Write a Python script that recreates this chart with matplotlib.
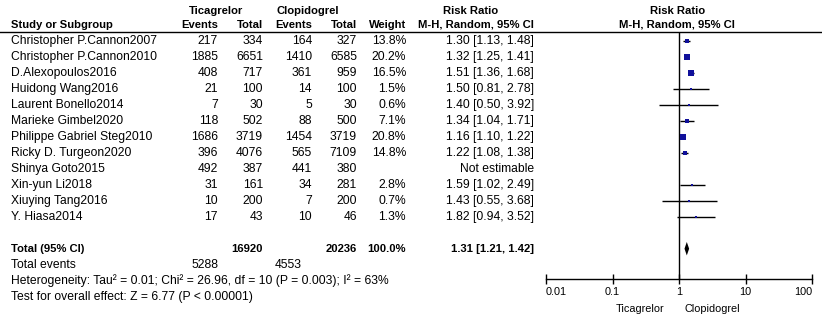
import matplotlib
matplotlib.use('Agg')
import matplotlib.pyplot as plt

plt.rcParams['font.family'] = ['Liberation Sans', 'DejaVu Sans']
plt.rcParams['font.size'] = 8.7

# study data
studies = ['Christopher P.Cannon2007', 'Christopher P.Cannon2010', 'D.Alexopoulos2016',
           'Huidong Wang2016', 'Laurent Bonello2014', 'Marieke Gimbel2020',
           'Philippe Gabriel Steg2010', 'Ricky D. Turgeon2020', 'Shinya Goto2015',
           'Xin-yun Li2018', 'Xiuying Tang2016', 'Y. Hiasa2014']
ev_tica = [217, 1885, 408, 21, 7, 118, 1686, 396, 492, 31, 10, 17]
tot_tica = [334, 6651, 717, 100, 30, 502, 3719, 4076, 387, 161, 200, 43]
ev_clop = [164, 1410, 361, 14, 5, 88, 1454, 565, 441, 34, 7, 10]
tot_clop = [327, 6585, 959, 100, 30, 500, 3719, 7109, 380, 281, 200, 46]
weights = [13.8, 20.2, 16.5, 1.5, 0.6, 7.1, 20.8, 14.8, None, 2.8, 0.7, 1.3]
rr = [1.30, 1.32, 1.51, 1.50, 1.40, 1.34, 1.16, 1.22, None, 1.59, 1.43, 1.82]
ci_lo = [1.13, 1.25, 1.36, 0.81, 0.50, 1.04, 1.10, 1.08, None, 1.02, 0.55, 0.94]
ci_hi = [1.48, 1.41, 1.68, 2.78, 3.92, 1.71, 1.22, 1.38, None, 2.49, 3.68, 3.52]

# pooled result
total_tica = 16920
total_clop = 20236
events_tica = 5288
events_clop = 4553
pooled_rr, pooled_lo, pooled_hi = 1.31, 1.21, 1.42
heterogeneity = 'Heterogeneity: Tau² = 0.01; Chi² = 26.96, df = 10 (P = 0.003); I² = 63%'
overall = 'Test for overall effect: Z = 6.77 (P < 0.00001)'

ticks = [0.01, 0.1, 1, 10, 100]
tick_labels = ['0.01', '0.1', '1', '10', '100']

W, H = 822, 320
top_idx = (0 - 40.7) / 16
bot_idx = (H - 40.7) / 16

fig = plt.figure(figsize=(W / 100, H / 100), dpi=100)

# table part, x in pixels, y in row index
tab = fig.add_axes([0, 0, 1, 1])
tab.set_xlim(0, W)
tab.set_ylim(bot_idx, top_idx)
tab.axis('off')

col_x = [218, 263, 312, 357, 406, 534]
bold = dict(fontweight='bold', fontsize=8.1)

tab.text(216, -1.85, 'Ticagrelor', ha='center', va='center', **bold)
tab.text(308, -1.85, 'Clopidogrel', ha='center', va='center', **bold)
tab.text(471, -1.85, 'Risk Ratio', ha='center', va='center', **bold)
tab.text(678, -1.85, 'Risk Ratio', ha='center', va='center', **bold)
tab.text(11, -1, 'Study or Subgroup', ha='left', va='center', **bold)
for x, h in zip(col_x, ['Events', 'Total', 'Events', 'Total', 'Weight', 'M-H, Random, 95% CI']):
    tab.text(x, -1, h, ha='right', va='center', **bold)
tab.text(677, -1, 'M-H, Random, 95% CI', ha='center', va='center', **bold)
tab.plot([0, W], [-0.54, -0.54], color='black', lw=1)

for i, name in enumerate(studies):
    tab.text(11, i, name, ha='left', va='center')
    vals = [str(ev_tica[i]), str(tot_tica[i]), str(ev_clop[i]), str(tot_clop[i])]
    vals.append('' if weights[i] is None else f'{weights[i]:.1f}%')
    if rr[i] is None:
        vals.append('Not estimable')
    else:
        vals.append(f'{rr[i]:.2f} [{ci_lo[i]:.2f}, {ci_hi[i]:.2f}]')
    for x, v in zip(col_x, vals):
        tab.text(x, i, v, ha='right', va='center')

n = len(studies) + 1
tab.text(11, n, 'Total (95% CI)', ha='left', va='center', **bold)
tab.text(263, n, str(total_tica), ha='right', va='center', **bold)
tab.text(357, n, str(total_clop), ha='right', va='center', **bold)
tab.text(406, n, '100.0%', ha='right', va='center', **bold)
tab.text(534, n, f'{pooled_rr:.2f} [{pooled_lo:.2f}, {pooled_hi:.2f}]', ha='right', va='center', **bold)
tab.text(11, n + 1, 'Total events', ha='left', va='center')
tab.text(218, n + 1, str(events_tica), ha='right', va='center')
tab.text(302, n + 1, str(events_clop), ha='right', va='center')
tab.text(11, n + 2, heterogeneity, ha='left', va='center')
tab.text(11, n + 3, overall, ha='left', va='center')

# forest plot
ax = fig.add_axes([546 / W, 0, 266 / W, 1])
ax.patch.set_alpha(0)
ax.set_xscale('log')
ax.set_xlim(0.01, 100)
ax.set_ylim(bot_idx, top_idx)
axis_y = (279 - 40.7) / 16
for s in ['top', 'right', 'left']:
    ax.spines[s].set_visible(False)
ax.spines['bottom'].set_position(('data', axis_y))
ax.spines['bottom'].set_linewidth(1)
ax.set_yticks([])
ax.set_xticks(ticks)
ax.set_xticklabels(tick_labels)
ax.minorticks_off()
ax.tick_params(axis='x', direction='inout', length=7, width=1, pad=2, labelsize=7.8)
labs = ax.get_xticklabels()
labs[0].set_ha('left')
labs[-1].set_ha('right')

ax.vlines(1, -0.54, axis_y, color='black', lw=1)
for i in range(len(studies)):
    if rr[i] is None:
        continue
    ax.hlines(i, ci_lo[i], ci_hi[i], color='black', lw=1)
    side_px = max(1.2, 1.25 * weights[i] ** 0.5)
    ax.scatter(rr[i], i, marker='s', s=(side_px * 0.72) ** 2, color='#10109a',
               linewidths=0, zorder=3)

ax.fill([pooled_lo, pooled_rr, pooled_hi, pooled_rr], [n, n - 0.42, n, n + 0.42],
        color='black', lw=0)

ax.text(0.6, 16.8, 'Ticagrelor', ha='right', va='center', fontsize=7.8)
ax.text(1.23, 16.8, 'Clopidogrel', ha='left', va='center', fontsize=7.8)

fig.savefig('out.png', dpi=100)
